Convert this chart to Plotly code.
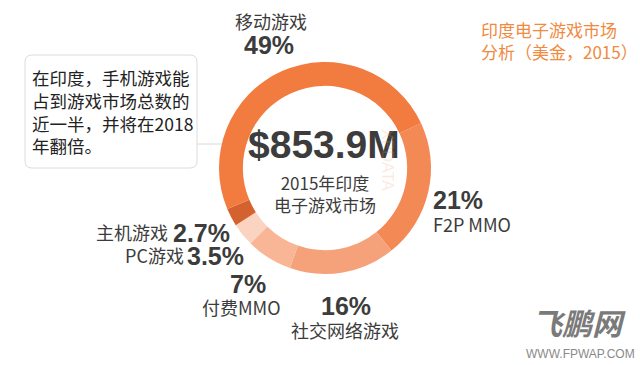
import plotly.graph_objects as go

# ---- data ----
categories = ["F2P MMO", "社交网络游戏", "付费MMO", "PC游戏", "主机游戏", "移动游戏"]
shares = [21, 16, 7, 3.5, 2.7, 49]
share_labels = ["21%", "16%", "7%", "3.5%", "2.7%", "49%"]
total_label = "$853.9M"
center_lines = ["2015年印度", "电子游戏市场"]
title_lines = ["印度电子游戏市场", "分析（美金，2015）"]
note_lines = ["在印度，手机游戏能", "占到游戏市场总数的", "近一半，并将在2018", "年翻倍。"]

colors = ["#F38A55", "#F5A27B", "#F8B696", "#FAD3C1", "#D4622E", "#F27B3F"]

CJK = "Noto Sans CJK SC"
NUM = "Liberation Sans"
DARK = "#3C3C3C"
ORANGE = "#F08A3F"

W, H = 640, 365
cx, cy, R = 325, 168, 106

fig = go.Figure()
fig.add_trace(go.Pie(
    labels=categories, values=shares, sort=False, direction="clockwise",
    rotation=65, hole=0.775, textinfo="none", hoverinfo="label+percent",
    marker=dict(colors=colors, line=dict(width=0)),
    domain=dict(x=[(cx - R) / W, (cx + R) / W], y=[(H - cy - R) / H, (H - cy + R) / H]),
    showlegend=False,
))

ann = []
def txt(x, y, s, size, color=DARK, family=CJK, xanchor="center", yanchor="middle", bold=False, **kw):
    ann.append(dict(x=x, y=y, xref="x", yref="y", text=("<b>%s</b>" % s) if bold else s,
                    showarrow=False, xanchor=xanchor, yanchor=yanchor,
                    font=dict(family=family, size=size, color=color), **kw))

# center
txt(324, 144, total_label, 39, bold=True, family=NUM)
txt(325, 193, "<br>".join(center_lines), 17)

# slice labels
txt(271, 21, categories[5], 18)
txt(269, 45, share_labels[5], 25, bold=True, family=NUM)
txt(431, 200, share_labels[0], 25, bold=True, family=NUM, xanchor="left")
txt(431, 224, categories[0], 18, xanchor="left")
txt(346, 306, share_labels[1], 25, bold=True, family=NUM)
txt(345, 330, categories[1], 18)
txt(248, 284, share_labels[2], 25, bold=True, family=NUM)
txt(241, 307, categories[2], 18)
txt(170, 232, categories[4], 18, xanchor="right")
txt(171, 233, share_labels[4], 25, bold=True, family=NUM, xanchor="left")
txt(186, 255, categories[3], 18, xanchor="right")
txt(185, 256, share_labels[3], 25, bold=True, family=NUM, xanchor="left")

# title
txt(479, 40, "<br>".join(title_lines), 17, color=ORANGE, xanchor="left", align="left")

# note box text
txt(30, 111, "<br>".join(note_lines), 17.5, color="#222222", xanchor="left", align="left")

# watermarks
txt(388, 160, "XPDATA", 16, color="rgba(240,150,110,0.22)", family=NUM, textangle=90)
txt(579, 346, "<i><b>飞鹏网</b></i>", 30, color="#7A7A7A", yanchor="bottom")
txt(580, 345, "WWW.FPWAP.COM", 12, color="#8A8A8A", family=NUM, yanchor="top")

# rounded note box
x0, y0, x1, y1, r = 25, 55, 197, 168, 7
path = (f"M {x0+r},{y0} L {x1-r},{y0} Q {x1},{y0} {x1},{y0+r} L {x1},{y1-r} "
        f"Q {x1},{y1} {x1-r},{y1} L {x0+r},{y1} Q {x0},{y1} {x0},{y1-r} "
        f"L {x0},{y0+r} Q {x0},{y0} {x0+r},{y0} Z")
shapes = [
    dict(type="path", path=path, xref="x", yref="y", line=dict(color="#DCDCDC", width=1),
         fillcolor="rgba(255,255,255,0)", layer="below"),
    dict(type="line", x0=197, x1=222, y0=144, y1=144, xref="x", yref="y",
         line=dict(color="#D8D8D8", width=1), layer="below"),
]

fig.update_layout(
    width=W, height=H, margin=dict(l=0, r=0, t=0, b=0),
    paper_bgcolor="white", plot_bgcolor="rgba(0,0,0,0)",
    xaxis=dict(range=[0, W], visible=False, fixedrange=True),
    yaxis=dict(range=[H, 0], visible=False, fixedrange=True),
    annotations=ann, shapes=shapes, showlegend=False,
)

fig.write_html("out.html", config={"displayModeBar": False},
               post_script="document.body.style.margin='0';")
